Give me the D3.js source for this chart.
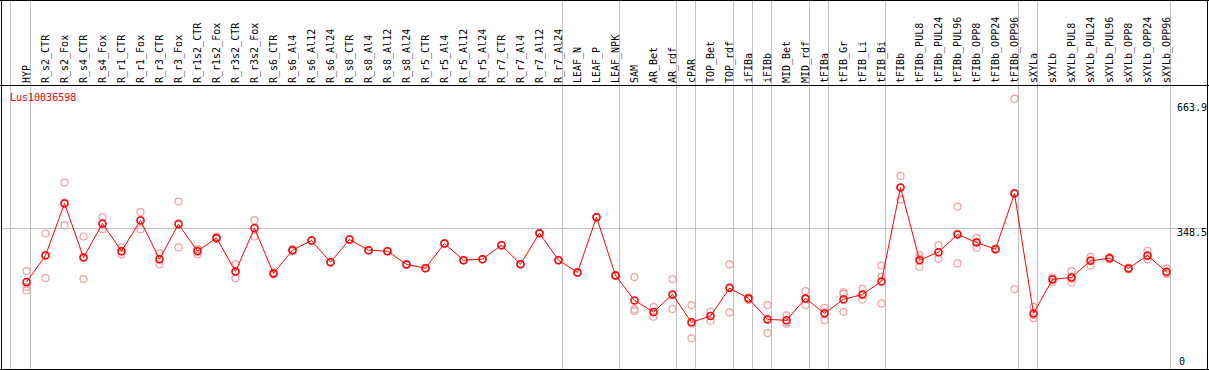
<!DOCTYPE html>
<html>
<head>
<meta charset="utf-8">
<script src="https://cdn.jsdelivr.net/npm/d3@7"></script>
<style>
  html, body { margin: 0; padding: 0; background: #fff; }
  svg { display: block; }
  text { font-family: "DejaVu Sans Mono", "Liberation Mono", monospace; font-size: 10px; }
</style>
</head>
<body>
<svg id="chart" width="1209" height="370"></svg>
<script>
const geneId = "Lus10036598";
const categories = ["HYP","R_s2_CTR","R_s2_Fox","R_s4_CTR","R_s4_Fox","R_r1_CTR","R_r1_Fox","R_r3_CTR","R_r3_Fox","R_r1s2_CTR","R_r1s2_Fox","R_r3s2_CTR","R_r3s2_Fox","R_s6_CTR","R_s6_Al4","R_s6_Al12","R_s6_Al24","R_s8_CTR","R_s8_Al4","R_s8_Al12","R_s8_Al24","R_r5_CTR","R_r5_Al4","R_r5_Al12","R_r5_Al24","R_r7_CTR","R_r7_Al4","R_r7_Al12","R_r7_Al24","LEAF_N","LEAF_P","LEAF_NPK","SAM","AR_Bet","AR_rdf","cPAR","TOP_Bet","TOP_rdf","iFIBa","iFIBb","MID_Bet","MID_rdf","tFIBa","tFIB_Gr","tFIB_Li","tFIB_Bi","tFIBb","tFIBb_PUL8","tFIBb_PUL24","tFIBb_PUL96","tFIBb_OPP8","tFIBb_OPP24","tFIBb_OPP96","sXYLa","sXYLb","sXYLb_PUL8","sXYLb_PUL24","sXYLb_PUL96","sXYLb_OPP8","sXYLb_OPP24","sXYLb_OPP96"];
const means = [214.5,281.1,410.8,276.1,360.9,291.8,368.4,271.9,359.2,291.8,325.0,241.2,349.2,236.2,294.3,318.5,264.4,321.0,294.3,291.8,258.7,249.4,311.1,269.4,271.9,306.8,259.4,336.7,269.4,238.7,376.7,231.2,168.9,139.7,183.8,114.0,129.7,199.6,173.9,121.5,119.0,173.9,136.4,171.4,183.8,216.3,450.7,269.4,289.4,333.5,313.5,296.8,435.8,136.4,221.3,226.2,267.6,274.4,248.7,281.1,240.2];
const rep1 = [242.0,336.0,463.2,328.5,376.7,301.1,389.1,286.1,415.8,294.3,322.0,259.4,369.2,236.0,292.0,318.5,264.4,321.0,294.3,291.8,258.7,249.4,311.1,269.4,271.9,306.8,259.4,336.7,269.4,238.7,376.7,231.2,227.0,152.2,222.0,157.1,140.4,258.7,176.4,157.1,131.5,192.1,150.4,188.8,197.8,256.2,479.7,281.9,306.8,403.3,325.0,296.0,672.7,152.9,214.5,242.0,277.6,272.0,246.0,292.6,248.7];
const rep2 = [202.8,224.5,356.0,222.0,346.7,283.6,346.0,258.7,301.1,284.4,325.0,223.7,328.5,234.0,294.0,318.5,264.4,321.0,294.3,291.8,258.7,249.4,311.1,269.4,271.9,306.8,259.4,336.7,269.4,238.7,376.7,231.2,147.2,128.0,147.2,74.1,118.0,138.9,169.6,87.3,110.5,157.1,119.0,140.4,171.4,227.7,420.8,252.7,272.6,261.2,300.1,297.0,197.1,124.0,223.0,213.8,256.2,274.0,249.0,271.9,234.5];
const rep3 = [193.8,282.9,413.3,277.6,359.2,291.8,369.2,271.9,361.7,296.8,328.0,240.2,350.0,239.0,297.0,318.5,264.4,321.0,294.3,291.8,258.7,249.4,311.1,269.4,271.9,306.8,259.4,336.7,269.4,238.7,376.7,231.2,142.2,138.9,182.1,110.5,130.5,201.3,175.4,119.7,114.7,172.1,139.7,184.6,182.1,161.4,451.5,273.6,288.6,336.0,315.0,298.0,437.5,132.2,226.0,222.8,269.4,277.0,251.0,279.4,237.7];
const groupEnds = ["HYP","R_r7_Al24","LEAF_NPK","AR_rdf","cPAR","TOP_rdf","iFIBa","iFIBb","MID_rdf","tFIBa","tFIB_Bi","tFIBb_OPP96","sXYLa","sXYLb_OPP96"];
const yTicks = [0, 348.5, 663.9];

const svg = d3.select("#chart");
const W = 1209, H = 370;
const headerY = 85.5;

const x = d3.scaleBand().domain(categories).range([16.5, 16.5 + 19 * categories.length]).padding(0);
const cx = c => Math.round(x(c) + x.bandwidth() / 2);
const y = d3.scaleLinear().domain([0, 663.9]).range([368, 102.2]);

// vertical separators
svg.append("line").attr("x1", 10.5).attr("x2", 10.5).attr("y1", 0).attr("y2", 369)
  .attr("stroke", "#c0c0c0").attr("stroke-width", 1);
svg.selectAll("line.sep").data(groupEnds).join("line").attr("class", "sep")
  .attr("x1", d => cx(d) + 4.5).attr("x2", d => cx(d) + 4.5)
  .attr("y1", 0).attr("y2", 369)
  .attr("stroke", "#c0c0c0").attr("stroke-width", 1);

// horizontal gridline at middle tick
svg.append("line").attr("x1", 2).attr("x2", 1207)
  .attr("y1", Math.round(y(yTicks[1])) + 0.5).attr("y2", Math.round(y(yTicks[1])) + 0.5)
  .attr("stroke", "#c0c0c0").attr("stroke-width", 1);

// frame
svg.append("line").attr("x1", 0).attr("x2", W).attr("y1", 0.5).attr("y2", 0.5).attr("stroke", "#000");
svg.append("line").attr("x1", 0).attr("x2", 1209).attr("y1", headerY).attr("y2", headerY).attr("stroke", "#000");
svg.append("line").attr("x1", 0).attr("x2", 1209).attr("y1", 369.5).attr("y2", 369.5).attr("stroke", "#000");
svg.append("line").attr("x1", 1.5).attr("x2", 1.5).attr("y1", 0).attr("y2", 370).attr("stroke", "#000");
svg.append("line").attr("x1", 1207.5).attr("x2", 1207.5).attr("y1", 0).attr("y2", 370).attr("stroke", "#000");

// header labels
svg.selectAll("text.cat").data(categories).join("text").attr("class", "cat")
  .attr("transform", d => `translate(${cx(d) + 4},83) rotate(-90)`)
  .attr("fill", "#000")
  .text(d => d);

// gene id
svg.append("text").attr("x", 10).attr("y", 101).attr("fill", "#ff0000").text(geneId);

// y tick labels
svg.append("text").attr("x", 1177).attr("y", Math.round(y(yTicks[2])) + 9).attr("fill", "#000").text(yTicks[2].toFixed(1));
svg.append("text").attr("x", 1177).attr("y", Math.round(y(yTicks[1])) + 8).attr("fill", "#000").text(yTicks[1].toFixed(1));
svg.append("text").attr("x", 1179).attr("y", 365).attr("fill", "#000").text(String(yTicks[0]));

// replicate points
const reps = [rep1, rep2, rep3];
reps.forEach((arr, k) => {
  svg.selectAll(`circle.rep${k}`).data(categories).join("circle").attr("class", `rep${k}`)
    .attr("cx", d => cx(d) + 0.5)
    .attr("cy", (d, i) => y(arr[i]))
    .attr("r", 3.5)
    .attr("fill", "none")
    .attr("stroke", "#f0a0a0")
    .attr("stroke-width", 1.2);
});

// mean line
const line = d3.line().x(d => cx(d.c) + 0.5).y(d => y(d.v));
const meanData = categories.map((c, i) => ({ c, v: means[i] }));
svg.append("path").datum(meanData).attr("d", line)
  .attr("fill", "none").attr("stroke", "#ff0000").attr("stroke-width", 1);

svg.selectAll("circle.mean").data(meanData).join("circle").attr("class", "mean")
  .attr("cx", d => cx(d.c) + 0.5)
  .attr("cy", d => y(d.v))
  .attr("r", 3.5)
  .attr("fill", "none")
  .attr("stroke", "#ff0000")
  .attr("stroke-width", 1.5);
</script>
</body>
</html>
